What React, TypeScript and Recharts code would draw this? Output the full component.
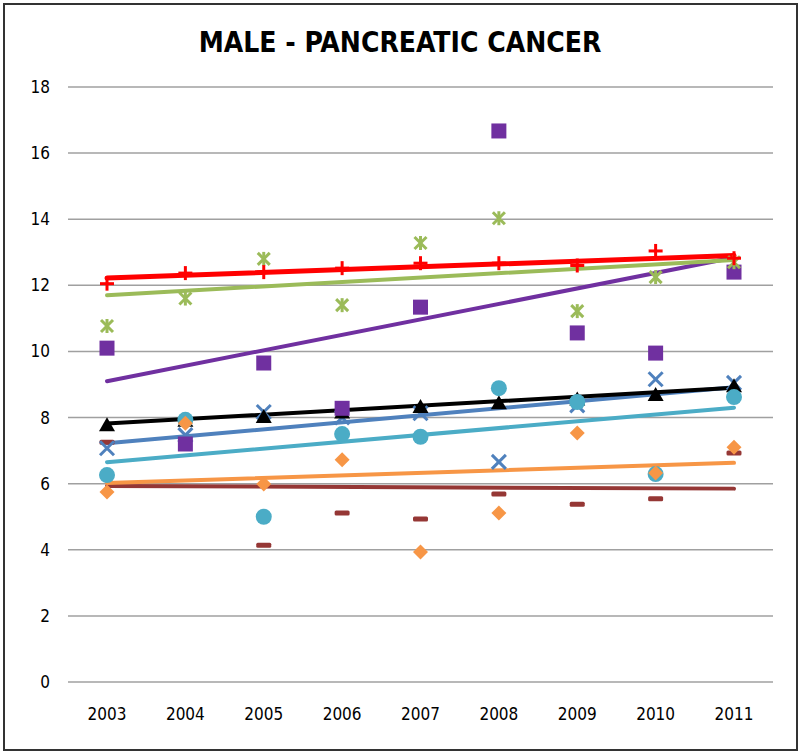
import React from "react";
import { ComposedChart, Line, XAxis, YAxis, CartesianGrid } from "recharts";

const years = ["2003", "2004", "2005", "2006", "2007", "2008", "2009", "2010", "2011"];

const redPlus = [12.05, 12.37, 12.4, 12.52, 12.67, 12.67, 12.6, 13.04, 12.82];
const greenStar = [10.77, 11.6, 12.8, 11.4, 13.28, 14.03, 11.22, 12.25, 12.7];
const purpleSquare = [10.1, 7.2, 9.65, 8.28, 11.34, 16.67, 10.56, 9.95, 12.4];
const blackTriangle = [7.77, 7.9, 8.02, 8.15, 8.32, 8.43, 8.55, 8.68, 8.95];
const blueCross = [7.07, 7.47, 8.17, 8.0, 8.13, 6.66, 8.37, 9.16, 9.05];
const cyanCircle = [6.26, 7.93, 5.0, 7.5, 7.42, 8.89, 8.47, 6.29, 8.62];
const orangeDiamond = [5.75, 7.83, 5.99, 6.72, 3.93, 5.11, 7.53, 6.32, 7.1];
const darkRedDash = [7.25, null, 4.14, 5.11, 4.93, 5.69, 5.38, 5.54, 6.93];

// trend line values at 2003 and 2011
const redTrend = [12.22, 12.9];
const greenTrend = [11.7, 12.77];
const purpleTrend = [9.1, 12.84];
const blackTrend = [7.82, 8.9];
const blueTrend = [7.22, 8.92];
const cyanTrend = [6.65, 8.3];
const orangeTrend = [6.02, 6.63];
const darkRedTrend = [5.93, 5.85];

const yTicks = [0, 2, 4, 6, 8, 10, 12, 14, 16, 18];

// trend lines, drawn bottom to top
const series = [
  { key: "darkRed", values: darkRedDash, trend: darkRedTrend, color: "#953735", shape: "dash", width: 4 },
  { key: "orange", values: orangeDiamond, trend: orangeTrend, color: "#F79646", shape: "diamond", width: 4 },
  { key: "cyan", values: cyanCircle, trend: cyanTrend, color: "#4BACC6", shape: "circle", width: 4 },
  { key: "blue", values: blueCross, trend: blueTrend, color: "#4F81BD", shape: "cross", width: 4 },
  { key: "black", values: blackTriangle, trend: blackTrend, color: "#000000", shape: "triangle", width: 4 },
  { key: "purple", values: purpleSquare, trend: purpleTrend, color: "#7030A0", shape: "square", width: 4 },
  { key: "green", values: greenStar, trend: greenTrend, color: "#9BBB59", shape: "star", width: 4 },
  { key: "red", values: redPlus, trend: redTrend, color: "#FF0000", shape: "plus", width: 5 },
];

// markers stack in a different order in the original
const markerOrder = ["darkRed", "blue", "black", "purple", "cyan", "orange", "green", "red"];

const last = years.length - 1;
const data = years.map((year, i) => {
  const row: Record<string, string | number | null> = { year };
  series.forEach((s) => {
    row[s.key] = s.values[i];
    row[s.key + "Trend"] = i === 0 ? s.trend[0] : i === last ? s.trend[1] : null;
  });
  return row;
});

function marker(shape: string, color: string) {
  return (props: any) => {
    const { cx, cy, index } = props;
    const k = `${shape}-${index}`;
    if (cx == null || cy == null || props.value == null) return <g key={k} />;
    switch (shape) {
      case "plus":
        return (
          <g key={k} stroke={color} strokeWidth={3}>
            <line x1={cx - 7} y1={cy} x2={cx + 7} y2={cy} />
            <line x1={cx} y1={cy - 7} x2={cx} y2={cy + 7} />
          </g>
        );
      case "star":
        return (
          <g key={k} stroke={color} strokeWidth={3}>
            <line x1={cx - 6} y1={cy - 6} x2={cx + 6} y2={cy + 6} />
            <line x1={cx - 6} y1={cy + 6} x2={cx + 6} y2={cy - 6} />
            <line x1={cx} y1={cy - 7} x2={cx} y2={cy + 7} />
          </g>
        );
      case "cross":
        return (
          <g key={k} stroke={color} strokeWidth={3}>
            <line x1={cx - 7} y1={cy - 7} x2={cx + 7} y2={cy + 7} />
            <line x1={cx - 7} y1={cy + 7} x2={cx + 7} y2={cy - 7} />
          </g>
        );
      case "square":
        return <rect key={k} x={cx - 7.5} y={cy - 7.5} width={15} height={15} fill={color} />;
      case "triangle":
        return (
          <polygon key={k} points={`${cx},${cy - 8} ${cx + 8},${cy + 6} ${cx - 8},${cy + 6}`} fill={color} />
        );
      case "circle":
        return <circle key={k} cx={cx} cy={cy} r={8} fill={color} />;
      case "diamond":
        return (
          <polygon key={k} points={`${cx},${cy - 7.5} ${cx + 7.5},${cy} ${cx},${cy + 7.5} ${cx - 7.5},${cy}`} fill={color} />
        );
      case "dash":
        return <rect key={k} x={cx - 7.5} y={cy - 2.5} width={15} height={5} rx={1.5} fill={color} />;
      default:
        return <g key={k} />;
    }
  };
}

const font = "'Liberation Sans Narrow', 'DejaVu Sans Condensed', 'Open Sans', sans-serif";

export default function App() {
  return (
    <div
      style={{
        position: "absolute",
        left: 0,
        top: 0,
        width: 800,
        height: 754,
        background: "#fff",
        fontFamily: font,
      }}
    >
      <div
        style={{
          position: "absolute",
          left: 3,
          top: 3,
          width: 791,
          height: 744,
          border: "2px solid #333",
        }}
      />
      <div
        style={{
          position: "absolute",
          left: 0,
          top: 25,
          width: 800,
          textAlign: "center",
          fontSize: 28,
          fontWeight: "bold",
          color: "#000",
          lineHeight: "36px",
        }}
      >
        MALE - PANCREATIC CANCER
      </div>
      <div style={{ position: "absolute", left: 0, top: 0 }}>
        <ComposedChart width={800} height={754} data={data} margin={{ top: 87, right: 27, bottom: 32, left: 8 }}>
          <CartesianGrid vertical={false} stroke="#a0a0a0" strokeWidth={1.5} />
          <XAxis
            dataKey="year"
            axisLine={false}
            tickLine={false}
            height={40}
            tickMargin={20}
            padding={{ left: 39, right: 39 }}
            tick={{ fill: "#000", fontSize: 17, fontFamily: font }}
          />
          <YAxis
            domain={[0, 18]}
            ticks={yTicks}
            axisLine={false}
            tickLine={false}
            width={60}
            tickMargin={12}
            tick={{ fill: "#000", fontSize: 17, fontFamily: font }}
          />
          {series.map((s) => (
            <Line
              key={s.key + "Trend"}
              type="linear"
              dataKey={s.key + "Trend"}
              stroke={s.color}
              strokeWidth={s.width}
              strokeLinecap="round"
              connectNulls
              dot={false}
              activeDot={false}
              isAnimationActive={false}
            />
          ))}
          {markerOrder.map((key) => {
            const s = series.find((x) => x.key === key)!;
            return (
              <Line
                key={s.key}
                type="linear"
                dataKey={s.key}
                stroke="none"
                dot={marker(s.shape, s.color)}
                activeDot={false}
                isAnimationActive={false}
              />
            );
          })}
        </ComposedChart>
      </div>
    </div>
  );
}
